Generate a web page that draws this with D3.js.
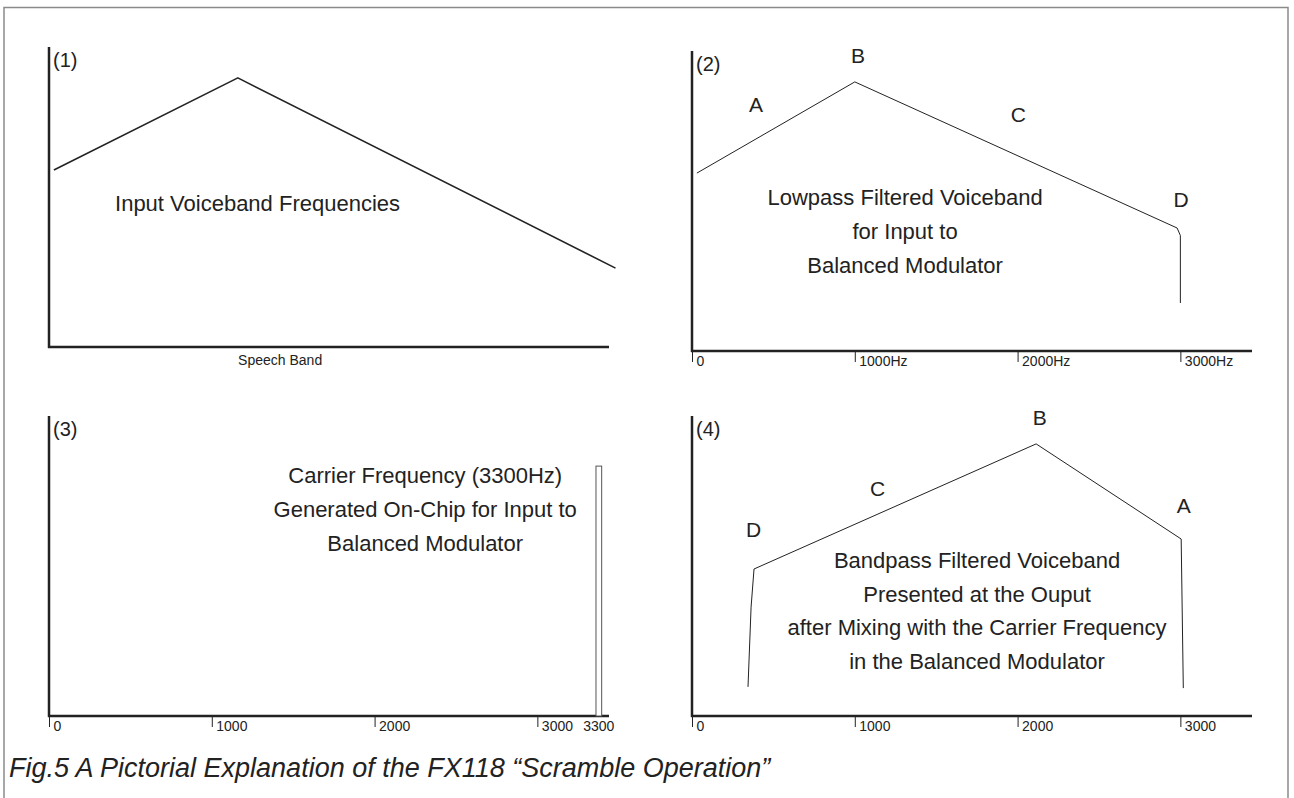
<!DOCTYPE html>
<html>
<head>
<meta charset="utf-8">
<script src="https://cdn.jsdelivr.net/npm/d3@7"></script>
<style>
  body { margin: 0; background: #fff; }
  svg text { font-family: "Liberation Sans", Arial, Helvetica, sans-serif; fill: #222; }
</style>
</head>
<body>
<div id="chart"></div>
<script>
// values (Hz along x, relative level 0..100 up y)
const freqTicks = [0, 1000, 2000, 3000]
const hzTickLabels = ["0", "1000Hz", "2000Hz", "3000Hz"]
const plainTickLabels = ["0", "1000", "2000", "3000"]

const inputFreq = [30, 1160, 3480]
const inputLevel = [59, 89.7, 26.3]

const lowpassFreq = [30, 1000, 2980, 3000, 3000]
const lowpassLevel = [59.3, 89.7, 41, 38.5, 16]

const carrierHz = 3300
const carrierBar = [3360, 3395]   // where the bar sits on the drawn axis
const carrierLevel = 83.3

const bandpassFreq = [344, 363, 381, 2114, 3005, 3018]
const bandpassLevel = [9.7, 36.3, 49, 90.7, 59, 9.3]

const lowpassLetters = [
    {t: "A", f: 393, v: 79.7}, {t: "B", f: 1020, v: 96},
    {t: "C", f: 2004, v: 76.3}, {t: "D", f: 3005, v: 48}
]
const bandpassLetters = [
    {t: "D", f: 378, v: 59.7}, {t: "C", f: 1140, v: 73.3},
    {t: "B", f: 2136, v: 97}, {t: "A", f: 3021, v: 67.7}
]

const W = 1294, H = 798
const svg = d3.select("#chart").append("svg")
    .attr("width", W)
    .attr("height", H)

// outer frame
svg.append("rect")
    .attr("x", 4).attr("y", 7.5)
    .attr("width", 1284).attr("height", 820)
    .attr("fill", "none")
    .attr("stroke", "#8a8a8a")
    .attr("stroke-width", 1.5)

const x = d3.scaleLinear().domain([0, 3440]).range([0, 560])
const y = d3.scaleLinear().domain([0, 100]).range([300, 0])

const makePanel = (ox, oy, num) => {
    const g = svg.append("g").attr("transform", `translate(${ox},${oy})`)
    g.append("line")   // y axis
        .attr("x1", 0).attr("x2", 0)
        .attr("y1", y(0) + 1).attr("y2", y(100))
        .attr("stroke", "#222").attr("stroke-width", 2.5)
    g.append("line")   // x axis
        .attr("x1", -1).attr("x2", x(3440))
        .attr("y1", y(0)).attr("y2", y(0))
        .attr("stroke", "#222").attr("stroke-width", 2.5)
    g.append("text")
        .attr("x", 4).attr("y", y(100) + 20)
        .attr("font-size", 20)
        .text(`(${num})`)
    return g
}

const tickText = sel => sel
    .attr("text-anchor", "start")
    .attr("x", 4).attr("y", 5).attr("dy", "0.71em")
    .attr("font-size", 14)
    .attr("font-family", "Liberation Sans, Arial, sans-serif")
    .attr("fill", "#222")

const addTicks = (g, labels) => {
    const axis = d3.axisBottom(x)
        .tickValues(freqTicks)
        .tickFormat((d, i) => labels[i])
        .tickSize(11)
        .tickSizeOuter(0)
    const a = g.append("g")
        .attr("transform", `translate(0,${y(0)})`)
        .call(axis)
    a.select(".domain").remove()
    a.selectAll(".tick line").attr("stroke", "#222").attr("stroke-width", 1)
    a.selectAll(".tick text").call(tickText)
    return a
}

const line = d3.line()
    .x(d => x(d[0]))
    .y(d => y(d[1]))

const drawTrace = (g, fs, vs, width) => {
    g.append("path")
        .datum(d3.zip(fs, vs))
        .attr("d", line)
        .attr("fill", "none")
        .attr("stroke", "#222")
        .attr("stroke-width", width)
        .attr("stroke-linejoin", "round")
}

const addBlock = (g, lines, f, v, gap) => {
    g.selectAll(null)
        .data(lines)
        .enter()
        .append("text")
        .attr("x", x(f))
        .attr("y", (d, i) => y(v) + i * gap)
        .attr("text-anchor", "middle")
        .attr("font-size", 22)
        .text(d => d)
}

const addLetters = (g, letters) => {
    g.selectAll(null)
        .data(letters)
        .enter()
        .append("text")
        .attr("x", d => x(d.f))
        .attr("y", d => y(d.v))
        .attr("text-anchor", "middle")
        .attr("font-size", 21)
        .text(d => d.t)
}

// (1) input voiceband
const p1 = makePanel(49, 47, 1)
drawTrace(p1, inputFreq, inputLevel, 1.6)
addBlock(p1, ["Input Voiceband Frequencies"], 1281, 45.3, 0)
p1.append("text")
    .attr("x", x(1420)).attr("y", y(0) + 18)
    .attr("text-anchor", "middle")
    .attr("font-size", 14)
    .text("Speech Band")

// (2) lowpass filtered
const p2 = makePanel(692, 51, 2)
addTicks(p2, hzTickLabels)
drawTrace(p2, lowpassFreq, lowpassLevel, 1)
addLetters(p2, lowpassLetters)
addBlock(p2, ["Lowpass Filtered Voiceband", "for Input to", "Balanced Modulator"], 1309, 48.7, 34)

// (3) carrier
const p3 = makePanel(49, 416, 3)
const ax3 = addTicks(p3, plainTickLabels)
p3.append("rect")
    .attr("x", x(carrierBar[0]))
    .attr("y", y(carrierLevel))
    .attr("width", x(carrierBar[1]) - x(carrierBar[0]))
    .attr("height", y(0) - y(carrierLevel))
    .attr("fill", "#fff")
    .attr("stroke", "#555")
    .attr("stroke-width", 1)
ax3.append("text")
    .call(tickText)
    .attr("x", x((carrierBar[0] + carrierBar[1]) / 2))
    .attr("text-anchor", "middle")
    .text(carrierHz)
addBlock(p3, ["Carrier Frequency (3300Hz)", "Generated On-Chip for Input to", "Balanced Modulator"], 2311, 77.7, 34)

// (4) bandpass output
const p4 = makePanel(692, 416, 4)
addTicks(p4, plainTickLabels)
drawTrace(p4, bandpassFreq, bandpassLevel, 1)
addLetters(p4, bandpassLetters)
addBlock(p4, ["Bandpass Filtered Voiceband", "Presented at the Ouput",
    "after Mixing with the Carrier Frequency", "in the Balanced Modulator"], 1751, 49.3, 33.5)

svg.append("text")
    .attr("x", 9).attr("y", 777)
    .attr("font-size", 27)
    .attr("font-style", "italic")
    .text("Fig.5 A Pictorial Explanation of the FX118 \u201CScramble Operation\u201D")
</script>
</body>
</html>
